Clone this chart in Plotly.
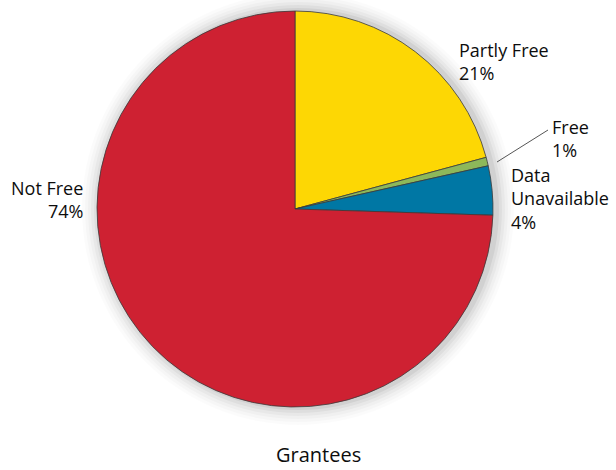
import plotly.graph_objects as go

labels = ["Partly Free", "Free", "Data Unavailable", "Not Free"]
values = [20.8, 0.7, 4.0, 74.5]
pct_labels = ["21%", "1%", "4%", "74%"]
colors = ["#FDD704", "#8DB85A", "#0077A4", "#CE2132"]
title_text = "Grantees"

W, H = 616, 470
cx, cy, r = 295, 209, 198

def px(x):
    return x / W

def py(y):
    return 1 - y / H

fig = go.Figure()
fig.add_trace(go.Pie(
    labels=labels, values=values, sort=False, direction="clockwise", rotation=0,
    marker=dict(colors=colors, line=dict(color="#3a3a3a", width=0.8)),
    textinfo="none", hoverinfo="label+percent", showlegend=False,
    domain=dict(x=[px(cx - r), px(cx + r)], y=[py(cy + r), py(cy - r)]),
))

# soft shadow around pie
shapes = []
for i, a in enumerate([0.05, 0.04, 0.03, 0.025, 0.02, 0.015]):
    d = 3 + i * 3
    shapes.append(dict(type="circle", xref="paper", yref="paper",
                       x0=px(cx - r - d + 3), x1=px(cx + r + d + 3),
                       y0=py(cy + r + d), y1=py(cy - r - d),
                       fillcolor=f"rgba(0,0,0,{a})", line=dict(width=0), layer="below"))
# leader line for Free
shapes.append(dict(type="line", xref="paper", yref="paper",
                   x0=px(497), y0=py(162), x1=px(548), y1=py(130),
                   line=dict(color="#555555", width=1)))

font = dict(family="Open Sans", size=18, color="#0d0d0d")
ann = []
def add(text, x, y, xanchor="left", yanchor="middle", size=18):
    ann.append(dict(text=text, x=px(x), y=py(y), xref="paper", yref="paper",
                    xanchor=xanchor, yanchor=yanchor, align=xanchor if xanchor != "center" else "center",
                    showarrow=False, font=dict(font, size=size)))

add(labels[0] + "<br>" + pct_labels[0], 457, 61)
add(labels[1] + "<br>" + pct_labels[1], 550, 139)
add("Data<br>Unavailable<br>" + pct_labels[2], 509, 198)
add(labels[3] + "<br>" + pct_labels[3], 85, 200, "right")
add(title_text, 318, 470, "center", "bottom", size=20)

fig.update_layout(width=W, height=H, margin=dict(l=0, r=0, t=0, b=0),
                  paper_bgcolor="white", plot_bgcolor="white",
                  shapes=shapes, annotations=ann)
fig.write_html("out.html", config={"displayModeBar": False},
               post_script="document.body.style.margin='0';")
